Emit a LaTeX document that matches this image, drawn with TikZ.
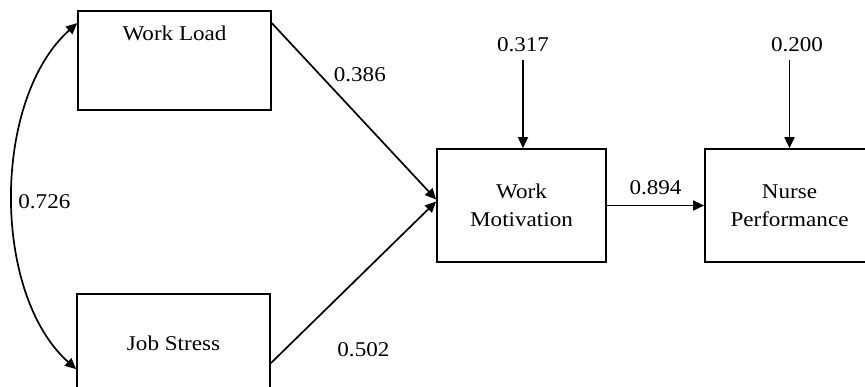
\documentclass[tikz,border=0pt]{standalone}
\usepackage{fontspec}
\setmainfont{Liberation Serif}[FakeStretch=1.1]
\usetikzlibrary{positioning}
\usetikzlibrary{arrows.meta}

\begin{document}
\begin{tikzpicture}[
	line width=0.85pt,
	x=0.5pt,y=-0.5pt,
	font=\fontsize{10.5}{14}\selectfont
]
\tikzset{
    mybox/.style = {rectangle, draw=black, align=center, minimum width=96.5pt, minimum height=49.5pt},
    midbox/.style = {mybox, minimum width=84.5pt, minimum height=56.5pt},
    mytip/.style = {-{Triangle[length=5.5pt,width=5pt]}},
    bothtip/.style = {{Triangle[length=5.5pt,width=5pt]}-{Triangle[length=5.5pt,width=5pt]}}
}
\useasboundingbox (0,0) rectangle (865,386);
\node[mybox,label={[anchor=north,yshift=-4pt]north:Work Load}] (wl) at (174.5,60.5) {};
\node[mybox] (js) at (173.5,343.5) {Job Stress};
\node[midbox] (wm) at (521.5,205.5) {Work\\Motivation};
\node[midbox] (np) at (789.5,205.5) {Nurse\\Performance};
\node (e1) at (523,45) {0.317};
\node (e2) at (797,45) {0.200};
\draw[mytip] ([yshift=-6.5pt]wl.north east) -- node[pos=0.36,anchor=south west,inner sep=1pt,yshift=1pt]{0.386} ([yshift=3pt]wm.west);
\draw[mytip] ([yshift=-35pt]js.north east) -- node[pos=0.56,below=31pt]{0.502} ([yshift=2pt]wm.west);
\draw[mytip] (wm) -- node[above,yshift=1.5pt]{0.894} (np);
\draw[mytip] (e1) -- (e1 |- wm.north);
\draw[mytip] (np.north |- e2.south) -- (np.north);
\draw[bothtip] ([yshift=-6.5pt]wl.north west) .. controls +(-85,76) and +(-85,-76) .. ([yshift=-38pt]js.north west) node[midway,right=-1pt,yshift=-3pt]{0.726};
\end{tikzpicture}
\end{document}
